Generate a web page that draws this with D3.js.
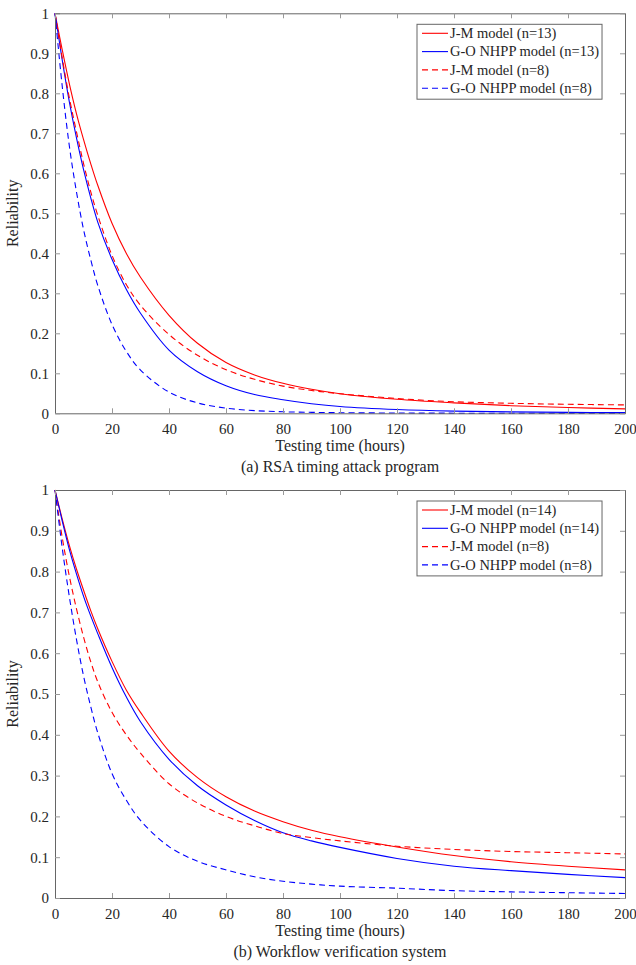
<!DOCTYPE html>
<html>
<head>
<meta charset="utf-8">
<script src="https://cdn.jsdelivr.net/npm/d3@7"></script>
<style>
  body { margin: 0; background: #fff; }
  svg { display: block; }
  text { font-family: "Liberation Serif", "Times New Roman", serif; fill: #262626; }
</style>
</head>
<body>
<svg id="chart" width="636" height="965"></svg>
<script>
// testing time grid (hours), shared by every series
var hours = [0, 2.5, 5, 7.5, 10, 12.5, 15, 20, 25, 30, 40, 50, 60, 70, 80, 90, 100, 120, 140, 160, 180, 200]

// (a) RSA timing attack program
var jmA13 = [1, 0.91, 0.825, 0.75, 0.685, 0.625, 0.57, 0.475, 0.40, 0.34, 0.245, 0.175, 0.127, 0.096, 0.075, 0.06, 0.049, 0.035, 0.026, 0.019, 0.0145, 0.011]
var goA13 = [1, 0.885, 0.78, 0.69, 0.61, 0.54, 0.478, 0.385, 0.31, 0.25, 0.158, 0.104, 0.069, 0.047, 0.034, 0.024, 0.017, 0.0095, 0.0055, 0.0035, 0.0023, 0.0016]
var jmA8 = [1, 0.89, 0.79, 0.705, 0.625, 0.555, 0.495, 0.395, 0.322, 0.27, 0.197, 0.145, 0.109, 0.085, 0.068, 0.057, 0.049, 0.037, 0.029, 0.025, 0.0225, 0.021]
var goA8 = [1, 0.82, 0.67, 0.555, 0.46, 0.385, 0.32, 0.222, 0.155, 0.108, 0.053, 0.026, 0.013, 0.0068, 0.0038, 0.0024, 0.0015, 0.0007, 0.0003, 0.0002, 0.0001, 0]

// (b) Workflow verification system
var jmB14 = [1, 0.93, 0.865, 0.807, 0.755, 0.705, 0.66, 0.58, 0.51, 0.455, 0.36, 0.295, 0.248, 0.213, 0.187, 0.166, 0.15, 0.125, 0.104, 0.089, 0.078, 0.069]
var goB14 = [1, 0.925, 0.855, 0.795, 0.74, 0.692, 0.648, 0.565, 0.493, 0.432, 0.34, 0.275, 0.228, 0.19, 0.16, 0.14, 0.124, 0.097, 0.078, 0.067, 0.058, 0.05]
var jmB8 = [1, 0.885, 0.79, 0.71, 0.64, 0.58, 0.53, 0.455, 0.40, 0.355, 0.28, 0.233, 0.2, 0.177, 0.158, 0.148, 0.14, 0.127, 0.119, 0.114, 0.111, 0.108]
var goB8 = [1, 0.86, 0.74, 0.635, 0.545, 0.47, 0.405, 0.305, 0.24, 0.19, 0.126, 0.09, 0.069, 0.052, 0.041, 0.034, 0.029, 0.024, 0.018, 0.015, 0.013, 0.011]

var xTicks = [0, 20, 40, 60, 80, 100, 120, 140, 160, 180, 200]
var yTicks = [0, 0.1, 0.2, 0.3, 0.4, 0.5, 0.6, 0.7, 0.8, 0.9, 1]

var svg = d3.select("#chart")

// one panel of the figure
function Panel(options) {
    var top = options.top,
        height = options.height,
        left = 55,
        width = 570,
        series = options.series

    var g = svg.append("g").attr("transform", "translate(" + left + "," + top + ")")

    var x = d3.scaleLinear().domain([0, 200]).range([0, width])
    var y = d3.scaleLinear().domain([0, 1]).range([height, 0])

    // curves
    var line = d3.line()
        .x(function(d) { return x(d[0]) })
        .y(function(d) { return y(d[1]) })
        .curve(d3.curveCatmullRom.alpha(0.5))

    series.forEach(function(s) {
        g.append("path")
            .datum(hours.map(function(h, i) { return [h, s.values[i]] }))
            .attr("fill", "none")
            .attr("stroke", s.color)
            .attr("stroke-width", 1.1)
            .attr("stroke-dasharray", s.dashed ? "6,4" : null)
            .attr("d", line)
    })

    // axes, ticks inside like matlab
    var bottomAxis = d3.axisBottom(x).tickValues(xTicks).tickSizeInner(-5).tickSizeOuter(0).tickPadding(10)
    var leftAxis = d3.axisLeft(y).tickValues(yTicks).tickSizeInner(-5).tickSizeOuter(0).tickPadding(6)
        .tickFormat(function(d) { return d === 0 || d === 1 ? d : d3.format(".1f")(d) })
    var topAxis = d3.axisTop(x).tickValues(xTicks).tickSizeInner(-5).tickSizeOuter(0).tickFormat("")
    var rightAxis = d3.axisRight(y).tickValues(yTicks).tickSizeInner(-5).tickSizeOuter(0).tickFormat("")

    var gx = g.append("g").attr("transform", "translate(0," + height + ")").call(bottomAxis)
    var gy = g.append("g").call(leftAxis)
    var gt = g.append("g").call(topAxis)
    var gr = g.append("g").attr("transform", "translate(" + width + ",0)").call(rightAxis)

    ;[gx, gy, gt, gr].forEach(function(a) {
        a.select(".domain").attr("stroke", "#666").attr("stroke-width", 1)
        a.selectAll(".tick line").attr("stroke", "#999")
        a.selectAll(".tick text")
            .style("font-family", "Liberation Serif")
            .style("font-size", "15px")
            .attr("fill", "#262626")
    })

    // labels
    g.append("text")
        .attr("x", width / 2)
        .attr("y", height + 38)
        .attr("text-anchor", "middle")
        .style("font-size", "16px")
        .text("Testing time (hours)")

    g.append("text")
        .attr("x", width / 2)
        .attr("y", height + 59)
        .attr("text-anchor", "middle")
        .style("font-size", "16px")
        .text(options.caption)

    g.append("text")
        .attr("transform", "translate(" + (-37) + "," + (height / 2) + ") rotate(-90)")
        .attr("text-anchor", "middle")
        .style("font-size", "16px")
        .text("Reliability")

    // legend
    var lg = g.append("g").attr("transform", "translate(362,11)")
    var box = lg.append("rect")
        .attr("fill", "#fff")
        .attr("stroke", "#666")
        .attr("stroke-width", 1)

    var rows = lg.selectAll(".legend-row")
        .data(series)
        .enter().append("g")
        .attr("class", "legend-row")
        .attr("transform", function(d, i) { return "translate(0," + (9 + i * 18.3) + ")" })

    rows.append("line")
        .attr("x1", 5).attr("x2", 31)
        .attr("y1", 0).attr("y2", 0)
        .attr("stroke", function(d) { return d.color })
        .attr("stroke-width", 1.1)
        .attr("stroke-dasharray", function(d) { return d.dashed ? "6,4" : null })

    rows.append("text")
        .attr("x", 33)
        .attr("dy", "0.33em")
        .style("font-size", "14.5px")
        .text(function(d) { return d.name })

    var maxW = d3.max(rows.selectAll("text").nodes(), function(n) { return n.getComputedTextLength() })
    box.attr("x", 0).attr("y", 0)
        .attr("width", 33 + maxW + 3)
        .attr("height", 9 + 3 * 18.3 + 11)
}

Panel({
    top: 13.3,
    height: 400,
    caption: "(a) RSA timing attack program",
    series: [
        { name: "J-M model (n=13)", values: jmA13, color: "#ff0000", dashed: false },
        { name: "G-O NHPP model (n=13)", values: goA13, color: "#0000ff", dashed: false },
        { name: "J-M model (n=8)", values: jmA8, color: "#ff0000", dashed: true },
        { name: "G-O NHPP model (n=8)", values: goA8, color: "#0000ff", dashed: true }
    ]
})

Panel({
    top: 490,
    height: 408,
    caption: "(b) Workflow verification system",
    series: [
        { name: "J-M model (n=14)", values: jmB14, color: "#ff0000", dashed: false },
        { name: "G-O NHPP model (n=14)", values: goB14, color: "#0000ff", dashed: false },
        { name: "J-M model (n=8)", values: jmB8, color: "#ff0000", dashed: true },
        { name: "G-O NHPP model (n=8)", values: goB8, color: "#0000ff", dashed: true }
    ]
})
</script>
</body>
</html>
